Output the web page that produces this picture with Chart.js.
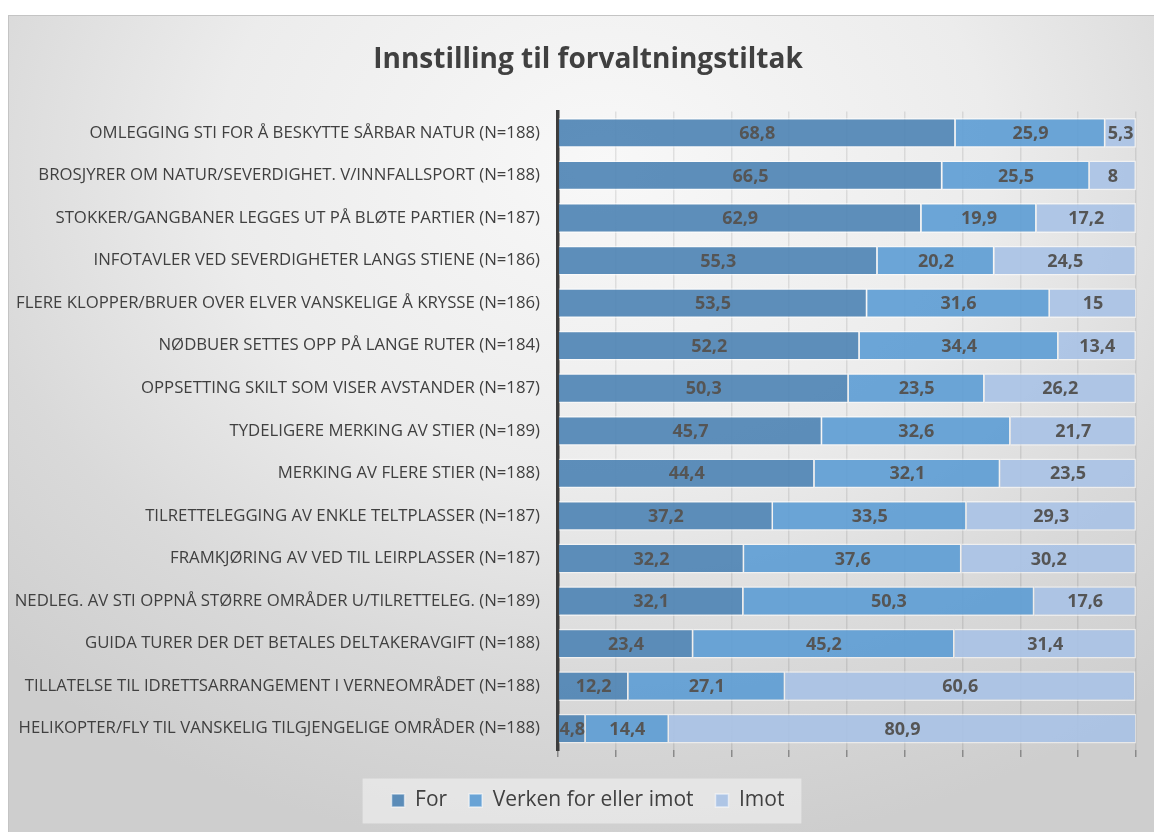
<!DOCTYPE html>
<html lang="no">
<head>
<meta charset="utf-8">
<title>Innstilling til forvaltningstiltak</title>
<script src="https://cdn.jsdelivr.net/npm/chart.js@4.4.1/dist/chart.umd.min.js"></script>
<style>
    html, body {
        margin: 0;
        padding: 0;
        background: #ffffff;
        width: 1154px;
        height: 832px;
        overflow: hidden;
    }
    .chart-box {
        position: absolute;
        left: 8px;
        top: 15px;
        width: 1146px;
        height: 817px;
        border-top: 1px solid #c4c4c4;
        border-left: 1px solid #c4c4c4;
        box-sizing: border-box;
        background: radial-gradient(ellipse 75% 85% at 52% 18%, #f8f8f8 0%, #ececec 45%, #d9d9d9 75%, #cecece 100%);
    }
    canvas {
        display: block;
    }
</style>
</head>
<body>
<div class="chart-box">
    <canvas id="tiltakChart" width="1145" height="816"></canvas>
</div>
<script>
// Svarfordeling per tiltak, prosent
const categories = [
    'OMLEGGING STI FOR Å BESKYTTE SÅRBAR NATUR (N=188)',
    'BROSJYRER OM NATUR/SEVERDIGHET. V/INNFALLSPORT (N=188)',
    'STOKKER/GANGBANER LEGGES UT PÅ BLØTE PARTIER (N=187)',
    'INFOTAVLER VED SEVERDIGHETER LANGS STIENE (N=186)',
    'FLERE KLOPPER/BRUER OVER ELVER VANSKELIGE Å KRYSSE (N=186)',
    'NØDBUER SETTES OPP PÅ LANGE RUTER (N=184)',
    'OPPSETTING SKILT SOM VISER AVSTANDER (N=187)',
    'TYDELIGERE MERKING AV STIER (N=189)',
    'MERKING AV FLERE STIER (N=188)',
    'TILRETTELEGGING AV ENKLE TELTPLASSER (N=187)',
    'FRAMKJØRING AV VED TIL LEIRPLASSER (N=187)',
    'NEDLEG. AV STI OPPNÅ STØRRE OMRÅDER U/TILRETTELEG. (N=189)',
    'GUIDA TURER DER DET BETALES DELTAKERAVGIFT (N=188)',
    'TILLATELSE TIL IDRETTSARRANGEMENT I VERNEOMRÅDET (N=188)',
    'HELIKOPTER/FLY TIL VANSKELIG TILGJENGELIGE OMRÅDER (N=188)'
];

const forValues = [68.8, 66.5, 62.9, 55.3, 53.5, 52.2, 50.3, 45.7, 44.4, 37.2, 32.2, 32.1, 23.4, 12.2, 4.8];
const verkenValues = [25.9, 25.5, 19.9, 20.2, 31.6, 34.4, 23.5, 32.6, 32.1, 33.5, 37.6, 50.3, 45.2, 27.1, 14.4];
const imotValues = [5.3, 8, 17.2, 24.5, 15, 13.4, 26.2, 21.7, 23.5, 29.3, 30.2, 17.6, 31.4, 60.6, 80.9];

const seriesNames = ['For', 'Verken for eller imot', 'Imot'];

const FONT = "'Open Sans', 'Noto Sans', sans-serif";

// Skriver verdien midt i hvert segment
const segmentLabels = {
    id: 'segmentLabels',
    afterDatasetsDraw(chart) {
        const ctx = chart.ctx;
        ctx.save();
        ctx.font = `bold 18px ${FONT}`;
        ctx.fillStyle = '#555555';
        ctx.textAlign = 'center';
        ctx.textBaseline = 'middle';
        chart.data.datasets.forEach((ds, di) => {
            const meta = chart.getDatasetMeta(di);
            meta.data.forEach((bar, i) => {
                const v = ds.data[i];
                const right = Math.min(bar.x, chart.chartArea.right);
                const cx = (right + bar.base) / 2;
                ctx.fillText(String(v).replace('.', ','), cx, bar.y + 1);
            });
        });
        ctx.restore();
    }
};

// Lys bakgrunnsboks bak forklaringen
const legendBackdrop = {
    id: 'legendBackdrop',
    beforeDraw(chart) {
        const boxes = chart.legend && chart.legend.legendHitBoxes;
        if (!boxes || !boxes.length) return;
        const left = Math.min(...boxes.map(b => b.left)) - 29;
        const right = Math.max(...boxes.map(b => b.left + b.width)) + 17;
        const midY = boxes[0].top + boxes[0].height / 2;
        const ctx = chart.ctx;
        ctx.save();
        ctx.fillStyle = 'rgba(235, 235, 235, 0.75)';
        ctx.fillRect(left, midY - 22, right - left, 45);
        ctx.restore();
    }
};

// Lange kategorinavn får bruke hele venstremargen
const wideLabels = {
    id: 'wideLabels',
    afterLayout(chart) {
        chart.scales.y.left = 0;
    }
};

const ctx = document.getElementById('tiltakChart').getContext('2d');

new Chart(ctx, {
    type: 'bar',
    data: {
        labels: categories,
        datasets: [
            {
                label: seriesNames[0],
                data: forValues,
                backgroundColor: 'rgba(76, 131, 180, 0.9)',
                borderColor: 'rgba(255, 255, 255, 0.55)',
                borderWidth: 1.5
            },
            {
                label: seriesNames[1],
                data: verkenValues,
                backgroundColor: 'rgba(92, 156, 212, 0.9)',
                borderColor: 'rgba(255, 255, 255, 0.55)',
                borderWidth: 1.5
            },
            {
                label: seriesNames[2],
                data: imotValues,
                backgroundColor: 'rgba(169, 194, 229, 0.9)',
                borderColor: 'rgba(255, 255, 255, 0.55)',
                borderWidth: 1.5
            }
        ]
    },
    options: {
        indexAxis: 'y',
        responsive: false,
        animation: false,
        categoryPercentage: 1,
        barPercentage: 0.7,
        layout: {
            padding: { left: 31, right: 18, top: 0, bottom: 11 }
        },
        plugins: {
            title: {
                display: true,
                text: 'Innstilling til forvaltningstiltak',
                color: '#404040',
                font: { family: FONT, size: 28, weight: 'bold' },
                padding: { top: 27, bottom: 35 }
            },
            legend: {
                position: 'bottom',
                labels: {
                    color: '#404040',
                    font: { family: FONT, size: 21 },
                    boxWidth: 13,
                    boxHeight: 13,
                    padding: 22
                }
            },
            tooltip: { enabled: false }
        },
        scales: {
            x: {
                stacked: true,
                min: 0,
                max: 100,
                afterFit(scale) {
                    scale.height = 18;
                },
                ticks: {
                    display: false,
                    stepSize: 10
                },
                grid: {
                    color: 'rgba(0, 0, 0, 0.09)',
                    tickColor: '#8a8a8a',
                    tickLength: 7,
                    lineWidth: 1.5
                },
                border: { display: false }
            },
            y: {
                stacked: true,
                afterFit(scale) {
                    scale.width = 518;
                },
                ticks: {
                    autoSkip: false,
                    color: '#404040',
                    padding: 10,
                    font: { family: FONT, size: 16.75 }
                },
                grid: { display: false },
                border: { display: true, color: '#3c3c3c', width: 3.5 }
            }
        }
    },
    plugins: [segmentLabels, legendBackdrop, wideLabels]
});
</script>
</body>
</html>
